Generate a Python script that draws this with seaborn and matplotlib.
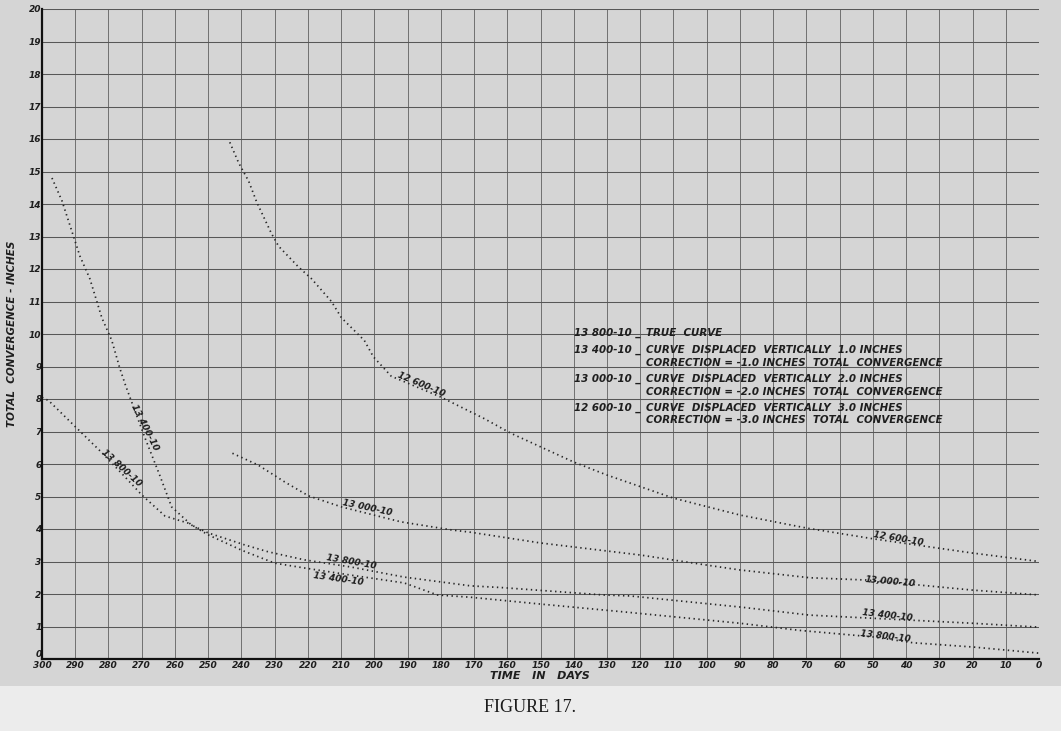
import matplotlib
matplotlib.use("Agg")
import matplotlib.pyplot as plt
import seaborn as sns
import pandas as pd
from matplotlib.patches import Rectangle

# ---------------- data ----------------
days_13800 = [300, 298, 288, 282, 275, 270, 263, 256, 250, 240, 230, 221, 207, 191, 181, 171, 150, 125, 110, 90, 72, 50, 38, 20, 0]
conv_13800 = [8.05, 7.95, 6.95, 6.35, 5.6, 5.05, 4.4, 4.18, 3.82, 3.35, 2.95, 2.8, 2.58, 2.34, 1.97, 1.9, 1.69, 1.45, 1.3, 1.1, 0.88, 0.68, 0.5, 0.37, 0.18]

days_13400 = [297, 294, 288.6, 285.6, 282, 279, 276.6, 274.8, 269, 264.6, 261, 255, 250, 239, 232, 221, 207, 191, 171, 162, 131, 123, 90, 69, 20, 0]
conv_13400 = [14.8, 14.1, 12.4, 11.7, 10.5, 9.8, 8.95, 8.4, 6.8, 5.66, 4.68, 4.12, 3.88, 3.51, 3.3, 3.05, 2.83, 2.52, 2.25, 2.2, 1.97, 1.94, 1.6, 1.35, 1.1, 0.98]

days_13000 = [242.7, 235, 227, 219.8, 209.9, 192, 176.7, 171, 150, 120, 100, 90, 69, 52, 20, 0]
conv_13000 = [6.33, 5.97, 5.45, 5.02, 4.68, 4.22, 3.97, 3.9, 3.57, 3.2, 2.89, 2.74, 2.5, 2.43, 2.12, 1.97]

days_12600 = [243.5, 240.8, 237.8, 235.4, 231, 228.8, 222.8, 218.9, 212.9, 209.9, 203, 200.3, 194.9, 180, 167, 159, 140, 130, 110, 90, 70, 50, 20, 0]
conv_12600 = [15.9, 15.26, 14.7, 14.06, 13.1, 12.7, 12.06, 11.7, 11.0, 10.5, 9.8, 9.3, 8.7, 8.06, 7.4, 6.95, 6.06, 5.66, 4.95, 4.43, 4.03, 3.7, 3.26, 3.0]

x_ticks = list(range(300, -1, -10))
x_tick_labels = [str(v) for v in x_ticks]
y_ticks = list(range(0, 21))
y_tick_labels = [str(v) for v in y_ticks]

legend_codes = ["13 800-10 _", "13 400-10 _", "", "13 000-10 _", "", "12 600-10 _", ""]
legend_texts = [
    "TRUE  CURVE",
    "CURVE  DISPLACED  VERTICALLY  1.0 INCHES",
    "CORRECTION = -1.0 INCHES  TOTAL  CONVERGENCE",
    "CURVE  DISPLACED  VERTICALLY  2.0 INCHES",
    "CORRECTION = -2.0 INCHES  TOTAL  CONVERGENCE",
    "CURVE  DISPLACED  VERTICALLY  3.0 INCHES",
    "CORRECTION = -3.0 INCHES  TOTAL  CONVERGENCE",
]

curve_label_text = ["13 400-10", "13 800-10", "12 600-10", "13 000-10", "13 800-10", "13 400-10",
                    "12 600-10", "13,000-10", "13 400-10", "13 800-10"]

# ---------------- styling ----------------
sns.set_style("white")
plt.rcParams['font.family'] = ['DejaVu Sans']

PAPER = "#d5d5d5"
INK = "#1e1e1e"

fig = plt.figure(figsize=(10.61, 7.31), dpi=100)
fig.patch.set_facecolor("#ececec")
fig.add_artist(Rectangle((0, 1 - 686 / 731), 1, 686 / 731, transform=fig.transFigure,
                         facecolor=PAPER, edgecolor="none", zorder=0))

ax = fig.add_axes([42 / 1061, 1 - 659 / 731, 997 / 1061, 650 / 731])
ax.set_facecolor(PAPER)

series = [
    ("13800-10", days_13800, conv_13800),
    ("13400-10", days_13400, conv_13400),
    ("13000-10", days_13000, conv_13000),
    ("12600-10", days_12600, conv_12600),
]
for name, d, c in series:
    df = pd.DataFrame({"days": d, "conv": c})
    sns.lineplot(data=df, x="days", y="conv", ax=ax, sort=False, color="#262626",
                 linewidth=1.25, linestyle=(0, (0.8, 2.0)), legend=False)

ax.set_xlim(300, 0)
ax.set_ylim(0, 20)
ax.set_xticks(x_ticks)
ax.set_xticklabels(x_tick_labels)
ax.set_yticks(y_ticks)
ax.set_yticklabels(y_tick_labels)

for lab in ax.get_xticklabels() + ax.get_yticklabels():
    lab.set_fontsize(6.5)
    lab.set_fontstyle("italic")
    lab.set_fontweight("bold")
    lab.set_color(INK)
ax.get_yticklabels()[0].set_verticalalignment("bottom")
ax.tick_params(axis="x", length=0, pad=1.5)
ax.tick_params(axis="y", length=0, pad=0.3)

ax.xaxis.grid(True, color="#6a6a6a", linewidth=0.65)
ax.yaxis.grid(True, color="#575757", linewidth=0.75)
ax.set_axisbelow(True)

for s in ["top", "right"]:
    ax.spines[s].set_visible(False)
for s in ["left", "bottom"]:
    ax.spines[s].set_color("#111111")
    ax.spines[s].set_linewidth(1.6)

ax.set_xlabel("TIME   IN   DAYS", fontsize=8, fontstyle="italic", fontweight="bold", color=INK, va="center")
ax.xaxis.set_label_coords((540 - 42) / 997, -(676 - 659) / 650)
ax.set_ylabel("TOTAL  CONVERGENCE - INCHES", fontsize=7.5, fontstyle="italic", fontweight="bold",
              color=INK, va="center")
ax.yaxis.set_label_coords(-(42 - 12) / 997, 0.5)

# curve labels on the chart
label_pos = [(269, 7.14), (276, 5.87), (186, 8.45), (202, 4.65), (207, 2.98), (210.8, 2.46),
             (42.3, 3.69), (44.7, 2.37), (45.6, 1.35), (46.2, 0.68)]
label_rot = [-63, -42, -23, -12, -10, -8, -9.5, -5, -6.5, -6.7]
for t, (x, y), r in zip(curve_label_text, label_pos, label_rot):
    ax.text(x, y, t, fontsize=6.5, fontstyle="italic", fontweight="bold", color=INK,
            rotation=r, rotation_mode="anchor", ha="center", va="center")

# legend block
legend_y = [10.03, 9.51, 9.11, 8.62, 8.22, 7.72, 7.35]
for code, txt, y in zip(legend_codes, legend_texts, legend_y):
    if code:
        ax.text(140.0, y, code, fontsize=7.4, fontstyle="italic", fontweight="bold",
                color=INK, ha="left", va="center")
    ax.text(118.3, y, txt, fontsize=7.4, fontstyle="italic", fontweight="bold",
            color=INK, ha="left", va="center")

fig.text(530 / 1061, 1 - 708 / 731, "FIGURE 17.", fontsize=13, family="Liberation Serif",
         color="#1a1a1a", ha="center", va="center")

fig.savefig("out.png", dpi=100, facecolor=fig.get_facecolor())
